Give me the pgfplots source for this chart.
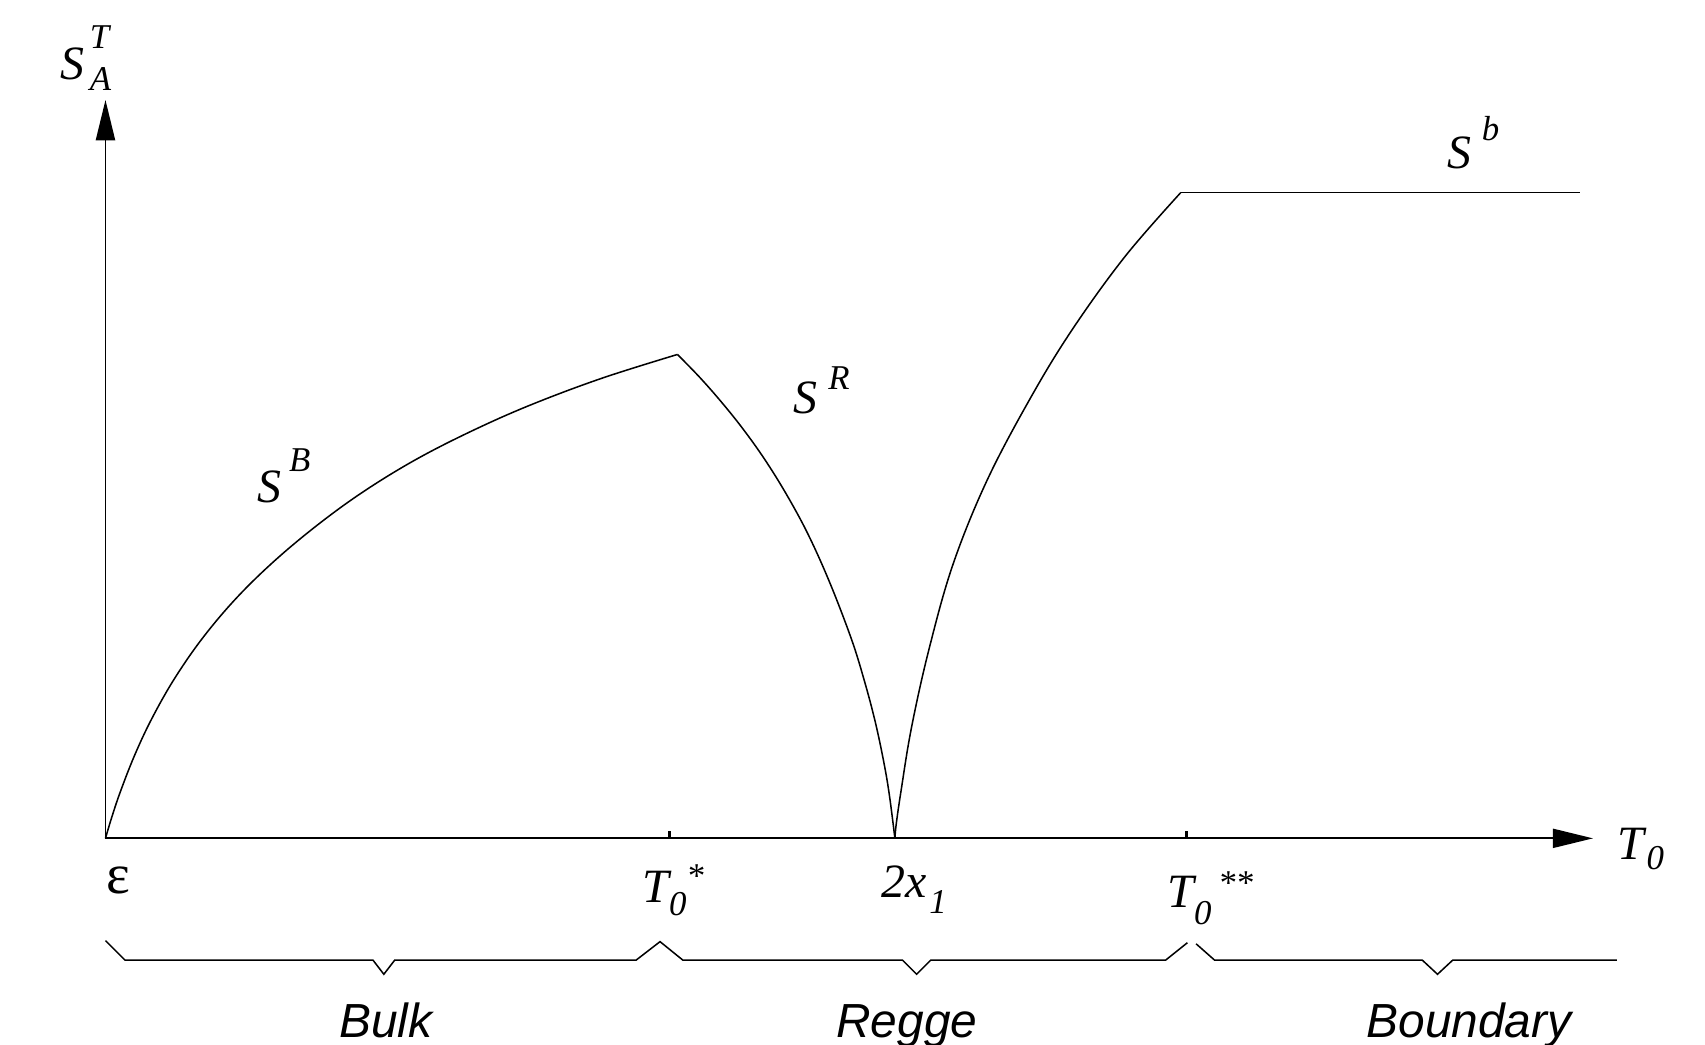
\documentclass[border=0pt]{standalone}
\usepackage{pgfplots}
\pgfplotsset{compat=1.18}
\usepackage{fontspec}
\setmainfont{Liberation Serif}
\newfontfamily\hv{Liberation Sans}
\usetikzlibrary{arrows.meta}
\newcommand{\sz}{\fontsize{11}{13}\selectfont\itshape}
\newcommand{\sm}{\fontsize{8}{9}\selectfont\itshape}
\newcommand{\bt}{\hv\fontsize{11}{13}\selectfont\itshape}
\begin{document}
\begin{tikzpicture}
\useasboundingbox (0,0) rectangle (392pt,240.25pt);
\begin{axis}[
  at={(0,0)}, anchor=south west,
  width=392pt, height=240.25pt, scale only axis,
  xmin=-97, xmax=1471, ymin=-190, ymax=771,
  hide axis, clip=false]
% axes
\addplot[black, line width=0.4pt, -{Triangle[length=9.25pt,width=4.4pt]}] coordinates {(0,0) (0,679)};
\addplot[black, line width=0.4pt, -{Triangle[length=9.25pt,width=4.4pt]}] coordinates {(0,0) (1368,0)};
% ticks
\addplot[black, line width=0.75pt] coordinates {(519,0) (519,7)};
\addplot[black, line width=0.75pt] coordinates {(994,0) (994,7)};
% S^B
\addplot[black, line width=0.35pt, smooth, tension=0.6] coordinates {
(0,0) (5.26,17.7) (13.15,41.4) (26.3,75.2) (42.1,109.1) (63.1,146.3) (89.4,184.3)
(121.0,221.6) (157.8,257.3) (199.9,292) (242.0,322) (289.3,350.5) (341.9,377)
(394.5,400) (457.6,423.5) (526,445)};
% S^R
\addplot[black, line width=0.35pt, smooth, tension=0.6] coordinates {
(526,445) (546,424.5) (566,401.8) (586,376.9) (606,348.9) (626,316.8) (646,279.9)
(666,235.4) (686,183.3) (698,144.6) (708,106.8) (716,69.0) (721,39.2) (726,0)};
% rising curve
\addplot[black, line width=0.35pt, smooth, tension=0.6] coordinates {
(726,0) (727.2,13) (731.7,44) (741.2,101.6) (757.1,172.9) (779.4,251.9) (811.1,330)
(852.4,408) (890.5,470) (938.2,535.8) (989,594)};
% plateau
\addplot[black, line width=0.35pt] coordinates {(989,594) (1356,594)};
% braces
\addplot[black, line width=0.35pt] coordinates {
(0,-94) (18,-112) (246,-112) (256,-125) (266,-112) (488,-112) (510,-95)
(531,-112) (733,-112) (746,-125) (759,-112) (975,-112) (995,-96)};
\addplot[black, line width=0.35pt] coordinates {
(1003,-97) (1020,-112) (1211,-112) (1225,-125) (1239,-112) (1390,-112)};
% labels
\node[anchor=base west, inner sep=0] at (-42,698)
  {\sz S\hspace{1.2pt}\rlap{\raisebox{7pt}{\sm T}}\raisebox{-2.5pt}{\sm A}};
\node[anchor=base west, inner sep=0] at (139,309)
  {\sz S\hspace{1.75pt}\raisebox{7pt}{\sm B}};
\node[anchor=base west, inner sep=0] at (632,391)
  {\sz S\hspace{2.5pt}\raisebox{5.5pt}{\sm R}};
\node[anchor=base west, inner sep=0] at (1233,616)
  {\sz S\hspace{2.5pt}\raisebox{6.5pt}{\sm b}};
\node[anchor=base west, inner sep=0] at (1390,-19)
  {\sz T\hspace{0.5pt}\raisebox{-2.5pt}{\sm 0}};
\node[anchor=base west, inner sep=0] at (0,-51)
  {\fontsize{13}{15}\selectfont ε};
\node[anchor=base west, inner sep=0] at (493,-59)
  {\sz T\raisebox{-3pt}{\sm 0}\raisebox{3.5pt}{\sm *}};
\node[anchor=base west, inner sep=0] at (713,-54)
  {\sz 2x\hspace{0.6pt}\raisebox{-3.75pt}{\sm 1}};
\node[anchor=base west, inner sep=0] at (976,-64)
  {\sz T\raisebox{-3.75pt}{\sm 0}\hspace{1.5pt}\raisebox{3.1pt}{\sm **}};
\node[anchor=base, inner sep=0] at (258,-183) {\bt Bulk};
\node[anchor=base, inner sep=0] at (737,-183) {\bt Regge};
\node[anchor=base, inner sep=0] at (1254,-183) {\bt Boundary};
\end{axis}
\end{tikzpicture}
\end{document}
